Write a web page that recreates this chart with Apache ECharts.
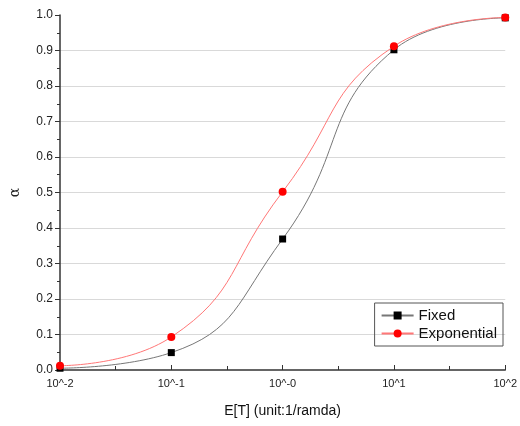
<!DOCTYPE html>
<html><head><meta charset="utf-8">
<script src="https://cdn.jsdelivr.net/npm/echarts@6/dist/echarts.min.js"></script>
<style>html,body{margin:0;padding:0;background:#fff}#c{width:520px;height:426px}</style>
</head><body><div id="c"></div>
<script>
var xExp = [-2, -1, 0, 1, 2];
var xTickLabels = ['10^-2', '10^-1', '10^-0', '10^1', '10^2'];
var fixedVals = [0.005, 0.049, 0.369, 0.902, 0.992];
var expVals = [0.012, 0.093, 0.502, 0.912, 0.993];

function pairs(vals){ return xExp.map(function(x,i){ return [x, vals[i]]; }); }
var splitColors = [];
for (var i = 0; i <= 10; i++) splitColors.push(i === 0 || i === 10 ? 'rgba(0,0,0,0)' : '#d9d9d9');

var chart = echarts.init(document.getElementById('c'));
chart.setOption({
  animation: false,
  backgroundColor: '#fff',
  textStyle: { fontFamily: 'Liberation Sans, Arial, sans-serif' },
  grid: { left: 58, right: 13, top: 15, bottom: 56, containLabel: false },
  legend: {
    right: 17, top: 303, orient: 'vertical',
    borderColor: '#555', borderWidth: 1, borderRadius: 0,
    padding: [5, 6, 5, 6], itemGap: 3, itemWidth: 32, itemHeight: 10,
    textStyle: { fontSize: 15, color: '#111', fontFamily: 'Liberation Sans, Arial, sans-serif' },
    data: ['Fixed', 'Exponential']
  },
  xAxis: {
    type: 'value', min: -2, max: 2, interval: 1,
    name: 'E[T] (unit:1/ramda)', nameLocation: 'middle', nameGap: 34,
    nameTextStyle: { fontSize: 14, color: '#111' },
    axisLine: { onZero: false, lineStyle: { color: '#333', width: 1.5 } },
    axisTick: { inside: true, length: 5, lineStyle: { color: '#333' } },
    minorTick: { show: true, splitNumber: 2, length: 4, lineStyle: { color: '#333' } },
    axisLabel: { fontSize: 11, color: '#222', margin: 8,
      formatter: function(v){ var i = xExp.indexOf(Math.round(v)); return i >= 0 ? xTickLabels[i] : ''; } },
    splitLine: { show: false }
  },
  yAxis: {
    type: 'value', min: 0, max: 1, interval: 0.1,
    name: 'α', nameLocation: 'middle', nameGap: 38, nameRotate: 90,
    nameTextStyle: { fontSize: 14, color: '#222', fontFamily: 'DejaVu Serif, serif' },
    axisLine: { show: true, onZero: false, lineStyle: { color: '#333', width: 1.5 } },
    axisTick: { show: true, inside: false, length: 5, lineStyle: { color: '#333' } },
    minorTick: { show: true, splitNumber: 2, length: 3, lineStyle: { color: '#333' } },
    axisLabel: { fontSize: 12, color: '#222', margin: 7, formatter: function(v){ return v.toFixed(1); } },
    splitLine: { show: true, lineStyle: { color: splitColors, width: 1 } }
  },
  series: [
    { name: 'Fixed', type: 'line', smooth: 0.5, data: pairs(fixedVals),
      symbol: 'rect', symbolSize: 7, showAllSymbol: true,
      itemStyle: { color: '#000' }, lineStyle: { color: '#777', width: 1 }, z: 2 },
    { name: 'Exponential', type: 'line', smooth: 0.5, data: pairs(expVals),
      symbol: 'circle', symbolSize: 8, showAllSymbol: true,
      itemStyle: { color: '#f00' }, lineStyle: { color: '#f77', width: 1 }, z: 3 }
  ]
});
</script></body></html>
